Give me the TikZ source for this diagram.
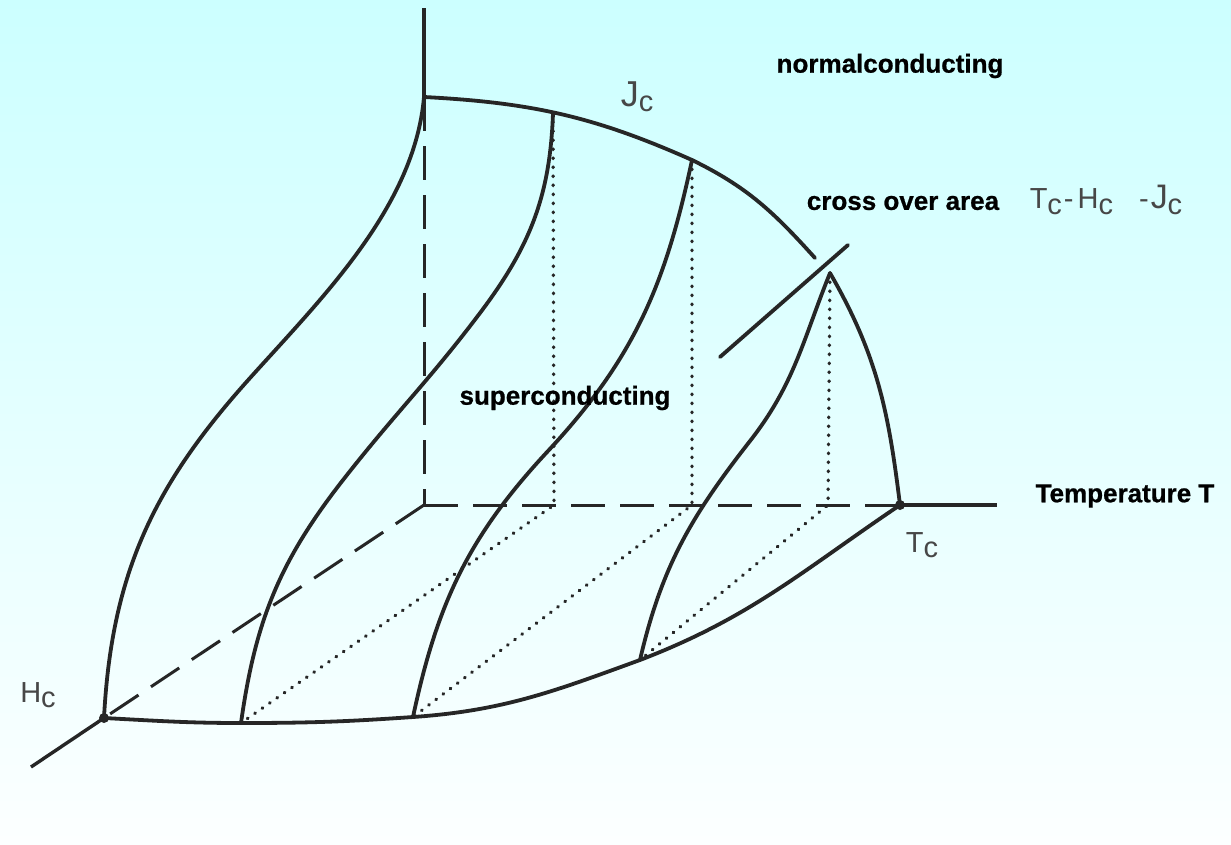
\documentclass[tikz,border=0pt]{standalone}
\usepackage{fontspec}
\setmainfont{Liberation Sans}[BoldFeatures={FakeBold=0.7}]
\usetikzlibrary{positioning}

\definecolor{inkline}{RGB}{38,38,38}
\definecolor{skytop}{RGB}{204,255,255}
\definecolor{skybottom}{RGB}{252,255,255}
\newcommand\lowsub[1]{\raisebox{-0.35ex}{#1}}

\begin{document}
\begin{tikzpicture}[
    x=1pt, y=-1pt,
    curve/.style={
        line width=3.8pt,
        draw=inkline,
        line cap=round
    },
    axis/.style={
        line width=3.4pt,
        draw=inkline
    },
    hidden/.style={
        line width=3pt,
        draw=inkline,
        dash pattern=on 34pt off 15pt
    },
    proj/.style={
        line width=3.4pt,
        draw=inkline,
        dash pattern=on 0.6pt off 8.4pt,
        line cap=round
    },
    point/.style={
        circle,
        fill=inkline,
        inner sep=0pt,
        minimum size=10pt
    },
    boldlabel/.style={
        font=\fontsize{26}{30}\selectfont\bfseries,
        text=black,
        inner sep=0pt
    },
    thinlabel/.style={
        font=\fontsize{29}{34}\selectfont,
        text=inkline!85,
        inner sep=0pt
    }
]

% --- Hintergrund ---
\useasboundingbox (0,0) rectangle (1231,844);
\shade[top color=skytop, bottom color=skybottom] (0,0) rectangle (1231,844);

% --- Achsenpunkte ---
\coordinate (O)    at (424,505);
\coordinate (Jc)   at (424,97);
\coordinate (Tc)   at (900,505);
\coordinate (Hc)   at (104,718);
\coordinate (jtop) at (424,8);
\coordinate (tend) at (997,505);
\coordinate (hend) at (31,767);

% --- Kurvenenden (oben / unten) ---
\coordinate (top2)  at (553,113);
\coordinate (top3)  at (692,160);
\coordinate (peak)  at (830,273);
\coordinate (cut)   at (815,258);
\coordinate (bot2)  at (241,723);
\coordinate (bot3)  at (413,717);
\coordinate (bot4)  at (640,660);
\coordinate (foot2) at (554,505);
\coordinate (foot3) at (692,505);
\coordinate (foot4) at (828,505);

% --- Wendepunkte der Schnitte ---
\coordinate (w1)  at (250,378);
\coordinate (w2a) at (343,480);
\coordinate (w2b) at (480,313);
\coordinate (w3)  at (548,451);
\coordinate (w4)  at (750,441);

% --- Crossover-Linie ---
\coordinate (xa) at (720,357);
\coordinate (xb) at (848,245);

% --- Achsen ---
\draw[hidden] (Jc) -- (O);
\draw[hidden] (O) -- (Tc);
\draw[hidden] (O) -- (Hc);
\draw[axis] (jtop) -- (Jc);
\draw[axis] (Tc) -- (tend);
\draw[axis] (Hc) -- (hend);

% --- Projektionen (gepunktet) ---
\draw[proj] (top2) -- (foot2) -- (bot2);
\draw[proj] (top3) -- (foot3) -- (bot3);
\draw[proj] (peak) -- (foot4) -- (bot4);

% --- Aeussere Flaechenraender ---
\draw[curve] (Jc) to[out=-3, in=156] (top3) to[out=-26, in=132] (cut);
\draw[curve] (peak) to[out=-60, in=97] (Tc);
\draw[curve] (Hc) to[out=-3, in=180] (bot2) to[out=0, in=184] (bot3)
    to[out=4, in=-160] (bot4) to[out=21, in=-146] (Tc);
\draw[curve] (Hc) to[out=87, in=-132] (w1) to[out=48, in=-95, looseness=0.85] (Jc);

% --- Schnitte bei konstanter Temperatur ---
\draw[curve] (bot2) to[out=82, in=-128] (w2a) to[out=52, in=-127] (w2b)
    to[out=53, in=-92] (top2);
\draw[curve] (bot3) to[out=78, in=-133] (w3) to[out=47, in=-102] (top3);
\draw[curve] (bot4) to[out=77, in=-128] (w4) to[out=52, in=-112] (peak);

% --- Crossover-Linie ---
\draw[curve] (xa) -- (xb);

% --- Punkte ---
\node[point] (hcdot) at (Hc) {};
\node[point] (tcdot) at (Tc) {};

% --- Beschriftungen ---
\node[boldlabel] (normal) at (890,66) {normalconducting};
\node[boldlabel] (cross)  at (903,203) {cross over area};
\node[boldlabel] (super)  at (565,398) {superconducting};
\node[boldlabel] (temp)   at (1125,496) {Temperature T};

\node[thinlabel] (jclabel) at (637,97) {{\fontsize{36}{40}\selectfont J}\lowsub{c}};
\node[thinlabel] (formula) at (1106,200)
    {T\lowsub{c}\hspace{2pt}-\hspace{4pt}H\lowsub{c}\hspace{26pt}-\hspace{2pt}{\fontsize{34}{40}\selectfont J}\lowsub{c}};
\node[thinlabel] (tclabel) at (922,545) {T\lowsub{c}};
\node[thinlabel] (hclabel) at (38,695) {H\lowsub{c}};

\end{tikzpicture}
\end{document}
